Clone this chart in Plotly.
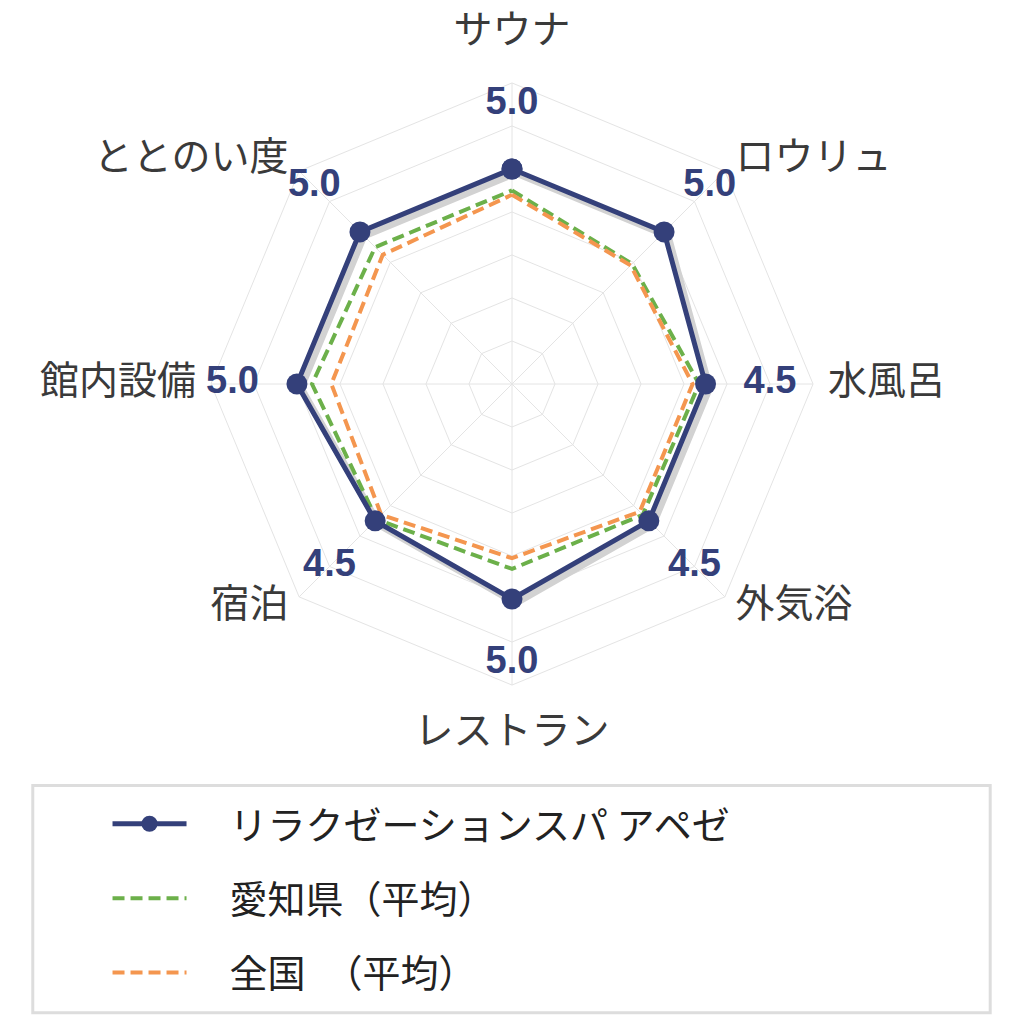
import plotly.graph_objects as go

categories = ['サウナ', 'ロウリュ', '水風呂', '外気浴', 'レストラン', '宿泊', '館内設備', 'ととのい度']
facility_name = 'リラクゼーションスパ アペゼ'
facility_scores = [5.0, 5.0, 4.5, 4.5, 5.0, 4.5, 5.0, 5.0]
aichi_name = '愛知県（平均）'
aichi_scores = [4.5, 3.95, 4.35, 4.3, 4.3, 4.45, 4.65, 4.5]
japan_name = '全国　（平均）'
japan_scores = [4.4, 3.9, 4.2, 4.2, 4.05, 4.3, 4.2, 4.25]

NAVY = '#34407a'
GREEN = '#6cb04a'
ORANGE = '#f4964f'
GRID = '#e4e4e4'
JP_FONT = 'Noto Sans CJK JP'
R_MAX = 7
R_LABEL = 8.3  # 項目名用の外側の極座標の範囲

# 項目名の置き場所（上下は中央寄せ、左右は外側に寄せる）
label_pos = ['top center', 'middle right', 'middle right', 'middle right',
             'bottom center', 'middle left', 'middle left', 'middle left']
label_r = [R_MAX + (0.7 if 'center' in p else 0.35) for p in label_pos]


def closed(values):
    # レーダーを閉じるため最初の点を末尾に追加
    return list(values) + [values[0]]


def square(cx, cy, half):
    return dict(x=[cx - half, cx + half], y=[cy - half, cy + half])


theta = closed(categories)

fig = go.Figure()

# 影（少しずらした別の極座標に描く）
fig.add_trace(go.Scatterpolar(
    r=closed(facility_scores), theta=theta, subplot='polar2',
    mode='lines', line=dict(color='#d2d2d2', width=7),
    showlegend=False, hoverinfo='skip'))

fig.add_trace(go.Scatterpolar(
    r=closed(aichi_scores), theta=theta, subplot='polar3',
    mode='lines', name='　' + aichi_name, legendgroup='b', legendrank=2,
    line=dict(color=GREEN, width=4, dash='12px,6px')))

fig.add_trace(go.Scatterpolar(
    r=closed(japan_scores), theta=theta, subplot='polar3',
    mode='lines', name='　' + japan_name, legendgroup='c', legendrank=3,
    line=dict(color=ORANGE, width=4, dash='12px,6px')))

fig.add_trace(go.Scatterpolar(
    r=closed(facility_scores), theta=theta, subplot='polar3',
    mode='lines+markers', name='　' + facility_name, legendgroup='a', legendrank=1,
    line=dict(color=NAVY, width=5),
    marker=dict(color=NAVY, size=21)))

# スコアのラベル
fig.add_trace(go.Scatterpolar(
    r=[v + 1.5 for v in facility_scores], theta=categories, subplot='polar3',
    mode='text', text=[f'{v:.1f}' for v in facility_scores],
    textfont=dict(family='Liberation Sans, Arial', size=38, color=NAVY, weight='bold'),
    cliponaxis=False, showlegend=False, hoverinfo='skip'))

# 項目名
fig.add_trace(go.Scatterpolar(
    r=label_r, theta=categories, subplot='polar4',
    mode='text', text=categories, textposition=label_pos,
    textfont=dict(family=JP_FONT, size=39, color='#3a3a3a'),
    cliponaxis=False, showlegend=False, hoverinfo='skip'))

# 角度軸の目盛り用にpolarへダミー点を置く
fig.add_trace(go.Scatterpolar(
    r=[0] * len(categories), theta=categories, subplot='polar',
    mode='markers', marker=dict(size=0, opacity=0),
    showlegend=False, hoverinfo='skip'))


def bare_polar(domain, rmax):
    return dict(
        domain=domain, gridshape='linear', bgcolor='rgba(0,0,0,0)',
        radialaxis=dict(range=[0, rmax], showticklabels=False, ticks='',
                        showline=False, showgrid=False),
        angularaxis=dict(direction='clockwise', rotation=90, showgrid=False,
                         showline=False, showticklabels=False, ticks='',
                         type='category', categoryorder='array',
                         categoryarray=categories),
    )


# ページの余白(8px)を差し引いた位置
ox, oy = -8 / 1024, 8 / 1024
cx, cy = 0.5 + ox, 0.625 + oy
half = 0.294
shift = 4 / 1024

polar_grid = dict(
    gridshape='linear',
    domain=square(cx, cy, half),
    bgcolor='white',
    radialaxis=dict(range=[0, R_MAX], dtick=1, showticklabels=False, ticks='',
                    showline=False, showgrid=True, gridcolor=GRID, gridwidth=1),
    angularaxis=dict(direction='clockwise', rotation=90, showgrid=True,
                     gridcolor=GRID, showline=True, linecolor=GRID, linewidth=1,
                     showticklabels=False, ticks='', type='category',
                     categoryorder='array', categoryarray=categories),
)

fig.update_layout(
    width=1024, height=1024,
    margin=dict(l=0, r=0, t=0, b=0),
    paper_bgcolor='white',
    polar=polar_grid,
    polar2=bare_polar(square(cx + shift, cy - shift, half), R_MAX),
    polar3=bare_polar(square(cx, cy, half), R_MAX),
    polar4=bare_polar(square(cx, cy, half * R_LABEL / R_MAX), R_LABEL),
    legend=dict(
        x=0.105 + ox, y=0.226 + oy, xanchor='left', yanchor='top',
        font=dict(family=JP_FONT, size=38, color='#222222'),
        bgcolor='rgba(0,0,0,0)', borderwidth=0,
        tracegroupgap=22, itemwidth=74,
    ),
    shapes=[dict(type='rect', xref='paper', yref='paper',
                 x0=0.032 + ox, x1=0.967 + ox, y0=0.011 + oy, y1=0.233 + oy,
                 line=dict(color='#dddddd', width=3))],
    showlegend=True,
)

fig.write_html('out.html')
